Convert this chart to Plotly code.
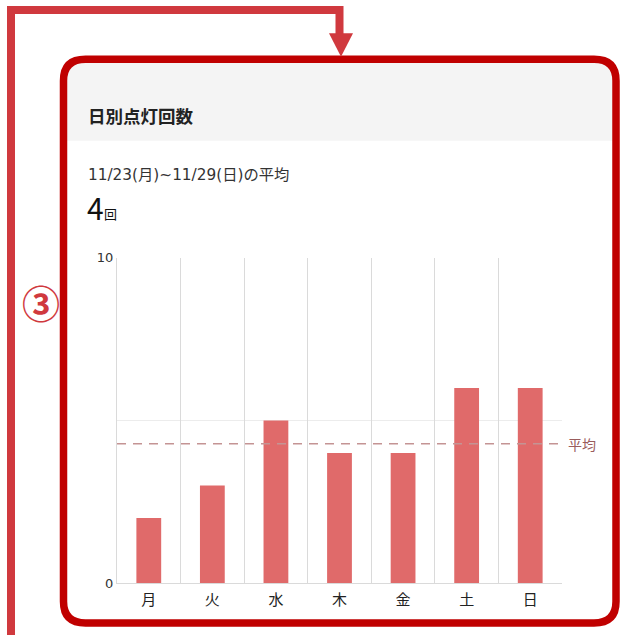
import plotly.graph_objects as go

days = ["月", "火", "水", "木", "金", "土", "日"]
counts = [2, 3, 5, 4, 4, 6, 6]
y_ticks = [0, 10]
title_text = "日別点灯回数"
period_text = "11/23(月)~11/29(日)の平均"
avg_label = "平均"
unit_label = "回"
marker_label = "③"

W, H = 626, 635
avg = sum(counts) / len(counts)

def px(x):
    return x / W

def py(y):
    return 1 - y / H

JP = "Noto Sans CJK JP, Noto Sans, sans-serif"
MIX = "DejaVu Sans, Noto Sans CJK JP, sans-serif"

fig = go.Figure()
fig.add_trace(go.Bar(
    x=days, y=counts, marker=dict(color="#e06a6a", line=dict(width=0)),
    hoverinfo="skip"
))

def rounded(x0, y0, x1, y1, r, top_only=False):
    rx = r / W
    ry = r / H
    X0, X1 = px(x0), px(x1)
    Y0, Y1 = py(y0), py(y1)
    if top_only:
        return (f"M {X0},{Y1} L {X0},{Y0-ry} Q {X0},{Y0} {X0+rx},{Y0} "
                f"L {X1-rx},{Y0} Q {X1},{Y0} {X1},{Y0-ry} L {X1},{Y1} Z")
    return (f"M {X0+rx},{Y0} L {X1-rx},{Y0} Q {X1},{Y0} {X1},{Y0-ry} "
            f"L {X1},{Y1+ry} Q {X1},{Y1} {X1-rx},{Y1} L {X0+rx},{Y1} "
            f"Q {X0},{Y1} {X0},{Y1+ry} L {X0},{Y0-ry} Q {X0},{Y0} {X0+rx},{Y0} Z")

shapes = []
shapes.append(dict(type="path", xref="paper", yref="paper", layer="below",
                   path=rounded(64, 54, 616, 137, 20, top_only=True),
                   fillcolor="#f4f4f4", line=dict(width=0)))
shapes.append(dict(type="path", xref="paper", yref="paper", layer="above",
                   path=rounded(63.5, 53.5, 616, 631, 22),
                   fillcolor="rgba(0,0,0,0)", line=dict(color="#c00000", width=7.5)))
conn = "#d0393e"
shapes.append(dict(type="path", xref="paper", yref="paper", layer="above",
                   path=f"M {px(11)},{py(645)} L {px(11)},{py(3)} L {px(339.5)},{py(3)} L {px(339.5)},{py(30)}",
                   fillcolor="rgba(0,0,0,0)", line=dict(color=conn, width=8)))
shapes.append(dict(type="path", xref="paper", yref="paper", layer="above",
                   path=f"M {px(329)},{py(27)} L {px(353)},{py(27)} L {px(341)},{py(51)} Z",
                   fillcolor=conn, line=dict(width=0)))
shapes.append(dict(type="line", xref="x domain", yref="y", x0=0, x1=1, y0=avg, y1=avg,
                   line=dict(color="#c49494", width=1.6, dash="9px,7px"), layer="above"))

annotations = [
    dict(text=f"<b>{title_text}</b>", x=px(86), y=py(111), xref="paper", yref="paper",
         xanchor="left", yanchor="middle", showarrow=False,
         font=dict(family=JP, size=17.5, color="#222")),
    dict(text=period_text, x=px(86), y=py(172), xref="paper", yref="paper",
         xanchor="left", yanchor="middle", showarrow=False,
         font=dict(family=MIX, size=15.3, color="#333")),
    dict(text=f"{round(avg)}", x=px(85), y=py(205),
         xref="paper", yref="paper", xanchor="left", yanchor="middle", showarrow=False,
         font=dict(family=JP, size=30, color="#111")),
    dict(text=unit_label, x=px(102), y=py(212),
         xref="paper", yref="paper", xanchor="left", yanchor="middle", showarrow=False,
         font=dict(family=JP, size=13, color="#111")),
    dict(text=avg_label, x=px(566), y=avg, xref="paper", yref="y",
         xanchor="left", yanchor="middle", showarrow=False,
         font=dict(family=JP, size=14, color="#9a5c5c")),
    dict(text=f"<b>{marker_label}</b>", x=px(41), y=py(302), xref="paper", yref="paper",
         xanchor="center", yanchor="middle", showarrow=False,
         font=dict(family=JP, size=38, color="#d0393e")),
]

fig.update_layout(
    width=W, height=H, autosize=False, margin=dict(l=0, r=0, t=0, b=0, pad=0),
    paper_bgcolor="white", plot_bgcolor="rgba(0,0,0,0)",
    showlegend=False, bargap=0.61,
    shapes=shapes, annotations=annotations,
    xaxis=dict(domain=[px(117), px(562)], type="category", tickson="boundaries",
               showgrid=True, gridcolor="#dadada", gridwidth=1,
               showline=True, linecolor="#dadada", ticks="", range=[-0.5, 6.5],
               tickfont=dict(family=JP, size=15, color="#222"), ticklabelstandoff=3),
    yaxis=dict(domain=[py(590), py(257)], range=[0, 10], tickvals=y_ticks,
               showgrid=False, zeroline=False, showline=True, linecolor="#dadada",
               ticks="", tickfont=dict(family=MIX, size=13, color="#333"),
               minor=dict(tickvals=[5], showgrid=True, gridcolor="#ececec", ticks="")),
)

post = (
    "var d=document.getElementById('{plot_id}');"
    "d.style.position='fixed';d.style.top='0px';d.style.left='0px';"
    "document.documentElement.style.margin='0';document.body.style.margin='0';"
    "document.documentElement.style.overflow='hidden';document.body.style.overflow='hidden';"
)
fig.write_html("out.html", config={"responsive": False, "displayModeBar": False},
               post_script=post)
